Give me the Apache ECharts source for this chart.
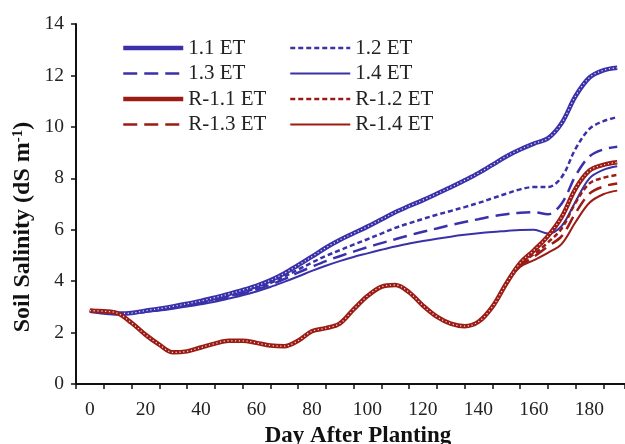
<!DOCTYPE html>
<html>
<head>
<meta charset="utf-8">
<script src="https://cdn.jsdelivr.net/npm/echarts@6/dist/echarts.min.js"></script>
<style>html,body{margin:0;padding:0;background:#fff}#c{width:625px;height:444px}</style>
</head>
<body>
<div id="c"></div>
<script>
// Day after planting (every 5 days)
var days = [0,5,10,15,20,25,30,35,40,45,50,55,60,65,70,75,80,85,90,95,100,105,110,115,120,125,130,135,140,145,150,155,160,165,170,175,180,185,190];

var et11 = [2.85,2.78,2.74,2.76,2.85,2.93,3.02,3.12,3.23,3.36,3.5,3.65,3.82,4.03,4.3,4.62,4.95,5.3,5.6,5.86,6.12,6.4,6.68,6.92,7.15,7.4,7.65,7.92,8.2,8.52,8.85,9.12,9.35,9.55,10.15,11.2,11.92,12.2,12.3];
var et12 = [2.85,2.78,2.74,2.76,2.83,2.9,2.98,3.07,3.17,3.29,3.42,3.56,3.72,3.92,4.17,4.45,4.72,4.98,5.2,5.42,5.63,5.85,6.07,6.25,6.42,6.58,6.73,6.88,7.04,7.22,7.4,7.57,7.66,7.66,8.05,9.15,9.92,10.22,10.38];
var et13 = [2.85,2.78,2.74,2.76,2.81,2.88,2.96,3.05,3.14,3.25,3.38,3.52,3.67,3.86,4.08,4.33,4.56,4.78,4.97,5.15,5.32,5.48,5.63,5.78,5.92,6.05,6.18,6.3,6.41,6.52,6.6,6.66,6.68,6.6,7.02,8.1,8.85,9.12,9.23];
var et14 = [2.85,2.78,2.74,2.75,2.8,2.86,2.93,3.01,3.1,3.2,3.32,3.45,3.6,3.77,3.97,4.18,4.4,4.6,4.78,4.94,5.08,5.22,5.35,5.46,5.56,5.65,5.73,5.8,5.86,5.91,5.95,5.99,6.0,5.85,6.15,7.1,8.0,8.33,8.47];

var r11 = [2.85,2.83,2.75,2.38,1.92,1.53,1.23,1.27,1.42,1.57,1.68,1.68,1.6,1.5,1.47,1.68,2.05,2.17,2.35,2.9,3.42,3.78,3.85,3.57,3.05,2.62,2.35,2.25,2.42,3.0,3.9,4.7,5.2,5.75,6.5,7.6,8.3,8.52,8.62];
var r12 = [2.85,2.83,2.75,2.38,1.92,1.53,1.23,1.27,1.42,1.57,1.68,1.68,1.6,1.5,1.47,1.68,2.05,2.17,2.35,2.9,3.42,3.78,3.85,3.57,3.05,2.62,2.35,2.25,2.42,3.0,3.9,4.65,5.05,5.5,6.05,7.05,7.8,8.02,8.13];
var r13 = [2.85,2.83,2.75,2.38,1.92,1.53,1.23,1.27,1.42,1.57,1.68,1.68,1.6,1.5,1.47,1.68,2.05,2.17,2.35,2.9,3.42,3.78,3.85,3.57,3.05,2.62,2.35,2.25,2.42,3.0,3.9,4.6,4.95,5.35,5.75,6.65,7.4,7.68,7.8];
var r14 = [2.85,2.83,2.75,2.38,1.92,1.53,1.23,1.27,1.42,1.57,1.68,1.68,1.6,1.5,1.47,1.68,2.05,2.17,2.35,2.9,3.42,3.78,3.85,3.57,3.05,2.62,2.35,2.25,2.42,3.0,3.9,4.55,4.82,5.1,5.45,6.3,7.05,7.38,7.52];

var xLabels = [0,20,40,60,80,100,120,140,160,180];
var yTicks = [0,2,4,6,8,10,12,14];

var BLUE = '#3a31aa', RED = '#9b1b15';
var FONT = 'Liberation Serif';

function pts(vals){ return days.map(function(d,i){ return [d, vals[i]]; }); }
function ser(name, vals, color, width, type, z){
  return {name:name, type:'line', data:pts(vals), smooth:0.35, symbol:'none', showSymbol:false, z:z,
    lineStyle:{color:color, width:width, type:type, cap:'butt'}, itemStyle:{color:color}};
}
function dots(name, vals, z){
  return {name:name, type:'line', data:pts(vals), smooth:0.35, symbol:'none', z:z, silent:true,
    lineStyle:{color:'rgba(255,255,255,0.85)', width:1.3, type:[1.2,2.6]}};
}
var legendCommon = {
  orient:'vertical', top:37, padding:0, itemWidth:60, itemHeight:14, itemGap:3.5,
  itemStyle:{opacity:0, borderWidth:0},
  lineStyle:{width:'inherit'},
  textStyle:{color:'#222', fontFamily:FONT, fontSize:21, lineHeight:22}
};

var chart = echarts.init(document.getElementById('c'), null, {renderer:'canvas'});
chart.setOption({
  animation:false,
  backgroundColor:'#fff',
  grid:{left:76, top:24, right:0, bottom:60, containLabel:false},
  xAxis:[{
    type:'value', min:-5, max:192.8, interval:5, position:'bottom',
    axisLine:{show:true, onZero:false, lineStyle:{color:'#111', width:2}},
    axisTick:{show:false}, splitLine:{show:false},
    axisLabel:{color:'#222', fontFamily:FONT, fontSize:19.5, margin:16, showMaxLabel:false,
      formatter:function(v){ return xLabels.indexOf(v) >= 0 ? String(v) : ''; }}
  },{
    type:'value', min:0, max:197.8, interval:10, position:'bottom',
    axisLine:{show:false}, splitLine:{show:false}, axisLabel:{show:false},
    axisTick:{show:true, length:5, lineStyle:{color:'#111', width:1.5}}
  }],
  yAxis:{
    type:'value', min:0, max:14, interval:2,
    axisLine:{show:true, onZero:false, lineStyle:{color:'#111', width:2}},
    axisTick:{show:true, length:5, lineStyle:{color:'#111', width:1.5}},
    splitLine:{show:false},
    axisLabel:{color:'#222', fontFamily:FONT, fontSize:19.5, margin:12,
      formatter:function(v){ return yTicks.indexOf(v) >= 0 ? String(v) : ''; }}
  },
  legend:[
    Object.assign({left:121, data:['1.1 ET','1.3 ET','R-1.1 ET','R-1.3 ET']}, legendCommon),
    Object.assign({left:289, data:['1.2 ET','1.4 ET','R-1.2 ET','R-1.4 ET']}, legendCommon)
  ],
  graphic:[{
    type:'text', x:23, y:227, rotation:Math.PI/2, z:10,
    style:{text:'Soil Salinity (dS m{sup|-1})', fill:'#111', font:'bold 24px "Liberation Serif"',
      textAlign:'center', textVerticalAlign:'middle', align:'center', verticalAlign:'middle',
      rich:{sup:{fontSize:15, fontWeight:'bold', fontFamily:FONT, fill:'#111', verticalAlign:'top', lineHeight:24}}}
  },{
    type:'text', x:358, y:436, z:10,
    style:{text:'Day After Planting', fill:'#111', font:'bold 23px "Liberation Serif"',
      textAlign:'center', textVerticalAlign:'middle', align:'center', verticalAlign:'middle'}
  }],
  series:[
    ser('1.4 ET', et14, BLUE, 2, 'solid', 2),
    ser('1.3 ET', et13, BLUE, 2.5, [14,7], 2),
    ser('1.2 ET', et12, BLUE, 2.5, [5,3], 2),
    ser('1.1 ET', et11, BLUE, 4.5, 'solid', 2),
    dots('d11', et11, 3),
    ser('R-1.4 ET', r14, RED, 2, 'solid', 4),
    ser('R-1.3 ET', r13, RED, 2.5, [14,7], 4),
    ser('R-1.2 ET', r12, RED, 2.5, [5,3], 4),
    ser('R-1.1 ET', r11, RED, 4.5, 'solid', 4),
    dots('dr11', r11, 5)
  ]
});
</script>
</body>
</html>
